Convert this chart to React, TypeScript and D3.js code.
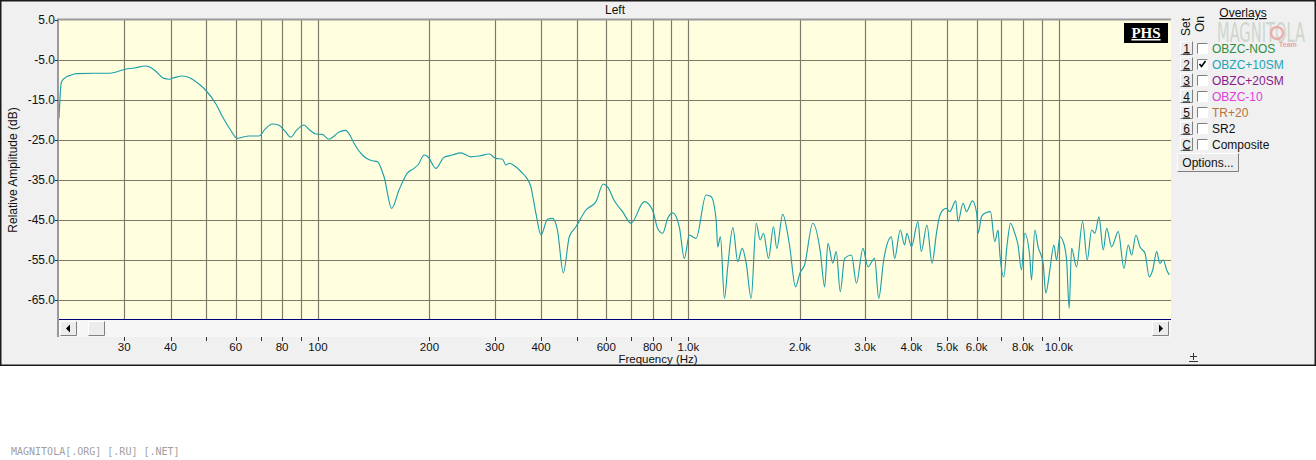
import React from 'react';
import * as d3 from 'd3';

// ---- data ----
const freqHz = [
  20, 20.3, 20.8, 21.5, 22.3, 25, 27.5, 30.2, 32, 34.2, 35, 36.5, 38.4, 39.6, 41, 43, 45.8, 48, 49.7,
  52.9, 55.5, 58.1, 60.5, 62.5, 65.1, 69.3, 72, 75.3, 78.5, 81.5, 84.4, 87.5, 91.6, 95, 98.6, 102.7,
  107.1, 110, 114, 118.8, 122, 125.1, 131.8, 137, 140.2, 144.6, 150.8, 158.2, 165.5, 174.3, 181.7,
  187, 193.4, 198.6, 208, 219, 230.6, 243, 258.6, 272.4, 289.8, 302, 315, 321.6, 328, 342, 356.5,
  364, 375.6, 387.5, 400, 416.5, 429.8, 443, 459.6, 477, 497, 529, 563, 589, 605, 631, 664, 700,
  760, 800, 826, 852, 879, 907, 945, 975, 1006, 1049, 1116, 1152, 1188, 1200, 1220, 1251, 1277,
  1318, 1359, 1397, 1432, 1477, 1524, 1562, 1595, 1645, 1697, 1732, 1797, 1874, 1946, 2000, 2058,
  2167, 2270, 2332, 2380, 2454, 2506, 2570, 2640, 2755, 2842, 2959, 3052, 3183, 3263, 3366, 3530,
  3603, 3731, 3833, 3889, 4000, 4165, 4251, 4404, 4546, 4673, 4748, 4867, 4972, 5075, 5268, 5344,
  5512, 5630, 5844, 6000, 6052, 6181, 6310, 6537, 6712, 6853, 6926, 7100, 7246, 7406, 7600, 7758,
  7925, 8090, 8346, 8435, 8613, 8788, 9067, 9220, 9455, 9694, 9858, 10062, 10271, 10490, 10662,
  10822, 11160, 11589, 11926, 12256, 12510, 12829, 13177, 13456, 13880, 14465, 14984, 15390, 15720,
  16140, 16550, 17080, 17540, 17920, 18370, 18720, 19130, 19540, 19870,
];
const levelDb = [
  -19.6, -10.5, -9.4, -8.8, -8.4, -8.3, -8.3, -7.3, -7.0, -6.5, -6.7, -7.8, -9.6, -9.8, -9.4, -9.0, -9.8, -11.2, -12.5,
  -15.8, -19.5, -22.5, -24.6, -24.3, -24.0, -24.0, -22.3, -21.0, -21.3, -22.8, -24.3, -22.6, -21.25, -22.5, -23.5, -23.6,
  -24.8, -24.2, -23.0, -22.6, -23.8, -25.8, -28.75, -29.9, -30.2, -30.4, -34.2, -42.1, -37.5, -33.3, -32.1,
  -31.0, -28.75, -29.3, -32.1, -29.3, -28.75, -28.2, -29.2, -29.0, -28.5, -29.6, -29.8, -31.25, -30.8, -31.7, -33.3,
  -34.2, -36.7, -43.3, -48.75, -44.8, -44.6, -47.5, -58.2, -49.2, -46.7, -42.5, -40.4, -36.0, -36.7, -40.2, -42.9, -45.8,
  -40.4, -42.5, -47.1, -48.3, -44.6, -43.2, -46.7, -54.6, -48.75, -49.6, -38.75, -39.2, -45.0, -51.7, -49.2, -64.6, -56.7,
  -46.9, -55.4, -52.1, -55.8, -64.6, -45.8, -50.0, -48.3, -54.6, -46.7, -52.1, -43.6, -51.25, -61.7, -58.3, -56.25,
  -45.8, -52.9, -61.7, -50.8, -55.8, -52.9, -62.9, -54.6, -53.75, -60.8, -52.1, -56.7, -54.6, -64.6, -55.0, -49.2,
  -54.6, -47.5, -51.25, -48.3, -51.7, -45.4, -52.9, -46.25, -55.8, -48.3, -44.6, -42.5, -42.1, -42.9, -40.2, -45.4,
  -40.8, -42.9, -40.2, -43.3, -48.3, -44.2, -43.3, -42.9, -50.4, -47.5, -53.3, -59.2, -51.25, -45.8, -48.3, -51.25,
  -57.5, -48.3, -54.2, -60.0, -47.5, -51.7, -55.8, -63.3, -57.5, -51.25, -55.0, -49.2, -50.4, -55.0, -67.1,
  -52.1, -56.7, -45.4, -55.0, -47.5, -48.3, -44.2, -52.5, -47.1, -51.7, -47.9, -57.1, -51.25, -53.75,
  -48.75, -51.7, -53.3, -59.2, -57.5, -52.9, -55.8, -55.0, -57.5, -58.75,
];

const gridFreqs = [30, 40, 50, 60, 70, 80, 90, 100, 200, 300, 400, 500, 600, 700, 800, 900, 1000,
  2000, 3000, 4000, 5000, 6000, 7000, 8000, 9000, 10000];
const xLabelFreqs = [30, 40, 60, 80, 100, 200, 300, 400, 600, 800, 1000, 2000, 3000, 4000, 5000, 6000, 8000, 10000];
const xLabelTexts = ['30', '40', '60', '80', '100', '200', '300', '400', '600', '800', '1.0k', '2.0k', '3.0k',
  '4.0k', '5.0k', '6.0k', '8.0k', '10.0k'];
const yTickValues = [5, -5, -15, -25, -35, -45, -55, -65];

const overlaySets = ['1', '2', '3', '4', '5', '6', 'C'];
const overlayNames = ['OBZC-NOS', 'OBZC+10SM', 'OBZC+20SM', 'OBZC-10', 'TR+20', 'SR2', 'Composite'];
const overlayOn = [false, true, false, false, false, false, false];
const overlayColors = ['#2f8f3f', '#22a3b3', '#8a1a8a', '#e03ce0', '#b8733a', '#111111', '#111111'];

const FONT = '"Liberation Sans", Arial, sans-serif';

function Button3D({ x0, y0, w, h }: { x0: number; y0: number; w: number; h: number }) {
  return (
    <g>
      <rect x={x0} y={y0} width={w} height={h} fill="#ececec" />
      <path d={`M${x0 + 0.5},${y0 + h - 0.5} V${y0 + 0.5} H${x0 + w - 0.5}`} stroke="#ffffff" fill="none" />
      <path d={`M${x0 + 0.5},${y0 + h - 0.5} H${x0 + w - 0.5} V${y0 + 0.5}`} stroke="#808080" fill="none" />
    </g>
  );
}

export default function App() {
  const x = d3.scaleLog().domain([20, 20000]).range([59, 1170.4]);
  const y = d3.scaleLinear().domain([5, -70]).range([20, 320]);
  const line = d3
    .line<number>()
    .x((_, i) => x(freqHz[i]))
    .y((d) => y(d))
    .curve(d3.curveMonotoneX);
  const path = line(levelDb) || '';

  const plotL = 59;
  const plotR = 1171;
  const plotT = 20;
  const plotB = 319;

  return (
    <div style={{ position: 'absolute', left: 0, top: 0 }}>
      <svg width={1316} height={460} style={{ display: 'block', fontFamily: FONT }}>
        <rect x={0} y={0} width={1316} height={460} fill="#ffffff" />
        {/* panel */}
        <rect x={0.75} y={0.75} width={1314.5} height={364.5} fill="#f0f0f0" stroke="#1a1a1a" strokeWidth={1.5} />

        {/* plot background */}
        <defs>
          <clipPath id="plotClip">
            <rect x={plotL} y={plotT} width={plotR - plotL} height={plotB - plotT} />
          </clipPath>
        </defs>
        <rect x={plotL} y={plotT} width={plotR - plotL} height={plotB - plotT} fill="#ffffe0" />

        {/* grid */}
        {gridFreqs.map((f) => (
          <line key={'vg' + f} x1={Math.round(x(f)) + 0.5} x2={Math.round(x(f)) + 0.5} y1={plotT} y2={plotB}
            stroke="#7d7a68" strokeWidth={1.2} />
        ))}
        {yTickValues.slice(1).map((v) => (
          <line key={'hg' + v} x1={plotL} x2={plotR} y1={Math.round(y(v)) + 0.5} y2={Math.round(y(v)) + 0.5}
            stroke="#7d7a68" strokeWidth={1.2} />
        ))}

        {/* curve */}
        <path d={path} fill="none" stroke="#1e9eab" strokeWidth={1.15} clipPath="url(#plotClip)" />

        {/* frame */}
        <line x1={plotL - 1} x2={plotR} y1={plotT - 0.5} y2={plotT - 0.5} stroke="#9a9a9a" strokeWidth={2} />
        <line x1={plotL - 1} x2={plotL - 1} y1={plotT - 1.5} y2={337} stroke="#9a9a9a" strokeWidth={2} />
        <line x1={plotL} x2={plotR} y1={plotB + 0.5} y2={plotB + 0.5} stroke="#000080" strokeWidth={1} />

        {/* PHS badge */}
        <rect x={1124} y={23} width={44} height={20} fill="#000000" />
        <text x={1146} y={38} textAnchor="middle" fill="#ffffff" fontFamily='"Liberation Serif", "DejaVu Serif", serif'
          fontWeight="bold" fontSize={15} textDecoration="underline">PHS</text>

        {/* scrollbar */}
        <rect x={plotL} y={320} width={plotR - plotL} height={17} fill="#f6f6f6" />
        <Button3D x0={60} y0={321} w={17} h={15} />
        <path d="M66,328.5 L70,324.5 L70,332.5 Z" fill="#000" />
        <Button3D x0={88} y0={321} w={17} h={15} />
        <Button3D x0={1152} y0={321} w={17} h={15} />
        <path d="M1163,328.5 L1159,324.5 L1159,332.5 Z" fill="#000" />

        {/* y axis */}
        {yTickValues.map((v) => (
          <g key={'yt' + v}>
            <line x1={55} x2={58} y1={Math.round(y(v)) + 0.5} y2={Math.round(y(v)) + 0.5} stroke="#333" />
            <text x={55} y={y(v) + 4} textAnchor="end" fontSize={12} fill="#111">{v.toFixed(1)}</text>
          </g>
        ))}
        <text transform="translate(17,170) rotate(-90)" textAnchor="middle" fontSize={12} fill="#111">
          Relative Amplitude (dB)
        </text>

        {/* x axis */}
        {gridFreqs.map((f) => (
          <line key={'xt' + f} x1={Math.round(x(f)) + 0.5} x2={Math.round(x(f)) + 0.5} y1={337} y2={341} stroke="#333" />
        ))}
        {xLabelFreqs.map((f, i) => (
          <text key={'xl' + f} x={x(f)} y={350.5} textAnchor="middle" fontSize={11.5} fill="#111">{xLabelTexts[i]}</text>
        ))}
        <text x={658} y={362.5} textAnchor="middle" fontSize={11.5} fill="#111">Frequency (Hz)</text>
        <text x={615} y={14} textAnchor="middle" fontSize={12} fill="#111">Left</text>

        {/* watermark */}
        <text x={1217} y={42} fontSize={27} fill="#c9d3c9" fontFamily='"DejaVu Sans Condensed", "Liberation Sans Narrow", sans-serif'
          textLength={88} lengthAdjust="spacingAndGlyphs" opacity={0.85}>MAGNITOLA</text>
        <circle cx={1277} cy={33} r={6} fill="none" stroke="#e8a0a0" strokeWidth={2.5} opacity={0.8} />
        <text x={1279} y={47} fontSize={7} fill="#eaa0a0" fontWeight="bold">Team</text>

        {/* legend */}
        <text x={1243} y={17} textAnchor="middle" fontSize={12} fill="#111" textDecoration="underline">Overlays</text>
        <text transform="translate(1190,36) rotate(-90)" fontSize={12} fill="#111">Set</text>
        <text transform="translate(1204,32) rotate(-90)" fontSize={12} fill="#111">On</text>
        {overlaySets.map((s, i) => {
          const cy = 48 + i * 16;
          return (
            <g key={'ov' + s}>
              <Button3D x0={1180} y0={cy - 7} w={13} h={14} />
              <text x={1186.5} y={cy + 4.5} textAnchor="middle" fontSize={12} fill="#111">{s}</text>
              <line x1={1183} x2={1190} y1={cy + 6} y2={cy + 6} stroke="#111" />
              <rect x={1197} y={cy - 5} width={11} height={11} fill="#ffffff" />
              <path d={`M${1197.5},${cy + 5.5} V${cy - 4.5} H${1207.5}`} stroke="#808080" fill="none" />
              {overlayOn[i] && (
                <path d={`M${1199.5},${cy} L${1201.5},${cy + 2.5} L${1205.5},${cy - 3}`} stroke="#000" strokeWidth={1.6} fill="none" />
              )}
              <text x={1212} y={cy + 4.5} fontSize={12} fill={overlayColors[i]}>{overlayNames[i]}</text>
            </g>
          );
        })}
        <Button3D x0={1177} y0={153} w={62} h={19} />
        <text x={1208} y={166.5} textAnchor="middle" fontSize={12} fill="#111">Options...</text>

        {/* corner icon */}
        <line x1={1193.5} x2={1193.5} y1={353} y2={360} stroke="#333" />
        <line x1={1190} x2={1197} y1={356.5} y2={356.5} stroke="#333" />
        <line x1={1189} x2={1198} y1={361.5} y2={361.5} stroke="#333" />

        {/* footer */}
        <text x={11} y={455} fontSize={10} fill="#a0a0a0" fontFamily='"DejaVu Sans Mono", monospace'>
          MAGNITOLA[.ORG] [.RU] [.NET]
        </text>
      </svg>
    </div>
  );
}
